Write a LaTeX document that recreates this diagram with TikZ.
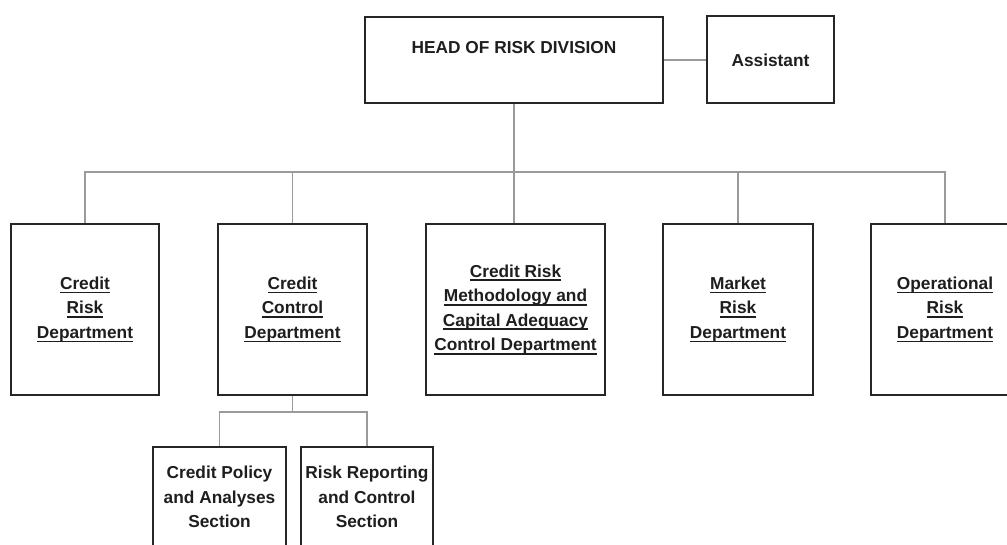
\documentclass[tikz,border=0pt]{standalone}
\usepackage{fontspec}
\setmainfont{Liberation Sans}
\definecolor{boxline}{HTML}{262626}
\definecolor{linegray}{HTML}{9A9A9A}
\definecolor{txt}{HTML}{1E1E1E}
\newcommand\uln[1]{\setbox0\hbox{#1}\rlap{\rule[-4pt]{\wd0}{1.6pt}}\box0}
\begin{document}
\begin{tikzpicture}[x=1pt,y=-1pt,
  box/.style={draw=boxline,line width=2pt,inner sep=0pt,align=center,text=txt,
    font=\bfseries\fontsize{17.3}{24.5}\selectfont},
  conn/.style={draw=linegray,line width=1.5pt}]
\useasboundingbox (0,0) rectangle (1007,545);
\clip (0,0) rectangle (1007,545);
\fill[white] (0,0) rectangle (1007,545);
% top
\node[box,minimum width=298,minimum height=86] (head) at (514,60) {HEAD OF RISK DIVISION\\\mbox{}};
\node[box,minimum width=127,minimum height=87] (asst) at (770.5,60) {Assistant};
% departments
\node[box,minimum width=148,minimum height=171] (crd) at (85,309.5) {\uln{Credit}\\\uln{Risk}\\\uln{Department}};
\node[box,minimum width=149,minimum height=171] (ccd) at (292.5,309.5) {\uln{Credit}\\\uln{Control}\\\uln{Department}};
\node[box,minimum width=179,minimum height=171] (crm) at (515.5,309.5) {\uln{Credit Risk}\\\uln{Methodology and}\\\uln{Capital Adequacy}\\\uln{Control Department}};
\node[box,minimum width=150,minimum height=171] (mrd) at (738,309.5) {\uln{Market}\\\uln{Risk}\\\uln{Department}};
\node[box,minimum width=148,minimum height=171] (ord) at (945,309.5) {\uln{Operational}\\\uln{Risk}\\\uln{Department}};
% sections
\node[box,minimum width=133,minimum height=100] (cpa) at (219.5,497) {Credit Policy\\and Analyses\\Section};
\node[box,minimum width=132,minimum height=100] (rrc) at (367,497) {Risk Reporting\\and Control\\Section};
% connectors
\coordinate (bus) at (514,172);
\coordinate (sbus) at (292.5,412);
\draw[conn] (head.east) -- (asst.west);
\draw[conn] (head.south) -- (head.south |- crm.north);
\draw[conn] (crd.north) -- (crd.north |- bus) -- (ord.north |- bus) -- (ord.north);
\draw[conn] (ccd.north) -- (ccd.north |- bus);
\draw[conn] (mrd.north) -- (mrd.north |- bus);
\draw[conn] (ccd.south) -- (sbus);
\draw[conn] (cpa.north) -- (cpa.north |- sbus) -- (rrc.north |- sbus) -- (rrc.north);
\end{tikzpicture}
\end{document}
